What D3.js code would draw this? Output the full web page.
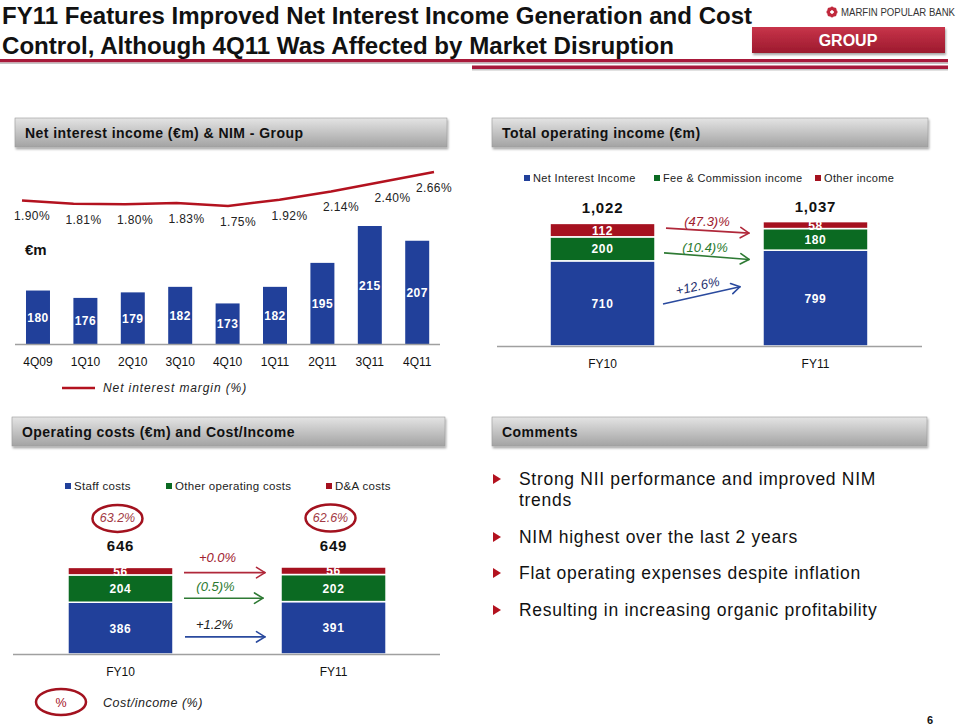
<!DOCTYPE html>
<html><head><meta charset="utf-8">
<script src="https://cdn.jsdelivr.net/npm/d3@7"></script>
<style>
html,body{margin:0;padding:0;background:#fff;}
svg{display:block;font-family:"Liberation Sans",Arial,sans-serif;}
</style></head>
<body>
<svg id="chart" width="960" height="727"></svg>
<script>
// ---------- DATA ----------
const titleLines = ["FY11 Features Improved Net Interest Income Generation and Cost",
                    "Control, Although 4Q11 Was Affected by Market Disruption"];
const quarters = ["4Q09","1Q10","2Q10","3Q10","4Q10","1Q11","2Q11","3Q11","4Q11"];
const niiValues = [180,176,179,182,173,182,195,215,207];
const nimValues = [1.90,1.81,1.80,1.83,1.75,1.92,2.14,2.40,2.66];

const years = ["FY10","FY11"];
const incomeSeries = ["Net Interest Income","Fee & Commission income","Other income"];
const netInterestIncome = [710,799];
const feeCommissionIncome = [200,180];
const otherIncome = [112,58];
const incomeTotals = ["1,022","1,037"];
const incomeChanges = ["+12.6%","(10.4)%","(47.3)%"];

const costSeries = ["Staff costs","Other operating costs","D&A costs"];
const staffCosts = [386,391];
const otherOpCosts = [204,202];
const daCosts = [56,56];
const costTotals = ["646","649"];
const costIncomeRatio = ["63.2%","62.6%"];
const costChanges = ["+1.2%","(0.5)%","+0.0%"];

const comments = [["Strong NII performance and improved NIM","trends"],
                  ["NIM highest over the last 2 years"],
                  ["Flat operating expenses despite inflation"],
                  ["Resulting in increasing organic profitability"]];

// ---------- STYLE ----------
const BLUE="#21409a", GREEN="#0b6a22", RED="#a5111f";
const svg = d3.select("#chart");
const defs = svg.append("defs");
const gg = defs.append("linearGradient").attr("id","grayGrad").attr("x1",0).attr("y1",0).attr("x2",0).attr("y2",1);
gg.append("stop").attr("offset","0%").attr("stop-color","#e4e4e4");
gg.append("stop").attr("offset","100%").attr("stop-color","#a3a3a3");
const rg = defs.append("linearGradient").attr("id","redGrad").attr("x1",0).attr("y1",0).attr("x2",0).attr("y2",1);
rg.append("stop").attr("offset","0%").attr("stop-color","#c8344a");
rg.append("stop").attr("offset","100%").attr("stop-color","#9c1a2e");
const sh = defs.append("filter").attr("id","shadow").attr("x","-5%").attr("y","-30%").attr("width","110%").attr("height","170%");
sh.append("feDropShadow").attr("dx",1).attr("dy",2).attr("stdDeviation",1.2).attr("flood-color","#000").attr("flood-opacity",0.35);

// ---------- HEADER ----------
svg.selectAll("text.title").data(titleLines).join("text")
  .attr("x",2).attr("y",(d,i)=>24+i*29.5)
  .attr("font-size",24).attr("font-weight","bold").attr("fill","#111")
  .attr("textLength",(d,i)=>i===0?750:672).attr("lengthAdjust","spacingAndGlyphs")
  .text(d=>d);

// logo
const logo = svg.append("g").attr("transform","translate(832,12)");
d3.range(8).forEach(k=>{
  const a = k*Math.PI/4;
  logo.append("circle").attr("cx",3.6*Math.cos(a)).attr("cy",3.6*Math.sin(a)).attr("r",2).attr("fill","#c0283c");
});
logo.append("circle").attr("r",1.6).attr("fill","#fff");
svg.append("text").attr("x",841).attr("y",16).attr("font-size",10).attr("fill","#333")
  .attr("textLength",114).attr("lengthAdjust","spacingAndGlyphs").text("MARFIN POPULAR BANK");
svg.append("rect").attr("x",752).attr("y",27).attr("width",193).attr("height",26)
  .attr("fill","url(#redGrad)").attr("filter","url(#shadow)");
svg.append("text").attr("x",848).attr("y",46).attr("text-anchor","middle").attr("font-size",16)
  .attr("font-weight","bold").attr("fill","#fff").text("GROUP");
// red rules
svg.append("rect").attr("x",0).attr("y",59).attr("width",948).attr("height",3.5).attr("fill","#a8193a");
svg.append("rect").attr("x",0).attr("y",62.5).attr("width",948).attr("height",1.5).attr("fill","#c4c4c4");
svg.append("rect").attr("x",472).attr("y",65.5).attr("width",476).attr("height",3.5).attr("fill","#a8193a");
svg.append("rect").attr("x",472).attr("y",69).attr("width",476).attr("height",1.5).attr("fill","#c4c4c4");

function sectionBox(x,y,w,label){
  svg.append("rect").attr("x",x).attr("y",y).attr("width",w).attr("height",29)
    .attr("fill","url(#grayGrad)").attr("stroke","#9a9a9a").attr("stroke-width",0.6)
    .attr("filter","url(#shadow)");
  svg.append("text").attr("x",x+10).attr("y",y+20).attr("font-size",14).attr("font-weight","bold")
    .attr("letter-spacing",0.45).attr("fill","#111").text(label);
}
sectionBox(15,118,432,"Net interest income (€m) & NIM - Group");
sectionBox(492,118,436,"Total operating income (€m)");
sectionBox(12,417,433,"Operating costs (€m) and Cost/Income");
sectionBox(492,417,435,"Comments");

// ---------- NII & NIM ----------
const xQ = d3.scaleBand().domain(quarters).range([15,440.2]).paddingInner(0.494).paddingOuter(0.232);
const yNII = d3.scaleLinear().domain([151,215]).range([344,226]);
const gNII = svg.append("g");
gNII.selectAll("rect").data(niiValues).join("rect")
  .attr("x",(d,i)=>xQ(quarters[i])).attr("width",xQ.bandwidth())
  .attr("y",d=>yNII(d)).attr("height",d=>yNII(151)-yNII(d)).attr("fill",BLUE);
gNII.selectAll("text.v").data(niiValues).join("text").attr("class","v")
  .attr("x",(d,i)=>xQ(quarters[i])+xQ.bandwidth()/2)
  .attr("y",d=>(yNII(d)+yNII(151))/2+4.5)
  .attr("text-anchor","middle").attr("font-size",12).attr("font-weight","bold").attr("letter-spacing",0.5)
  .attr("fill","#fff").text(d=>d);
gNII.append("line").attr("x1",15).attr("x2",440).attr("y1",yNII(151)+0.5).attr("y2",yNII(151)+0.5)
  .attr("stroke","#a0a0a0").attr("stroke-width",1.5);
const axQ = d3.axisBottom(xQ).tickSize(0).tickPadding(13);
const axG = gNII.append("g").attr("transform",`translate(0,${yNII(151)})`).call(axQ);
axG.select(".domain").remove();
axG.selectAll("text").attr("font-size",12).attr("font-family","Liberation Sans, Arial").attr("fill","#111");

const xNIM = d3.scalePoint().domain(quarters).range([22,434]);
const yNIM = d3.scaleLinear().domain([1.75,2.66]).range([206,172]);
gNII.append("path").datum(nimValues)
  .attr("d",d3.line().x((d,i)=>xNIM(quarters[i])).y(d=>yNIM(d)))
  .attr("fill","none").attr("stroke","#b3121f").attr("stroke-width",2.5);
gNII.selectAll("text.nim").data(nimValues).join("text").attr("class","nim")
  .attr("x",(d,i)=>xNIM(quarters[i])+(i===nimValues.length-1?0:10))
  .attr("y",d=>yNIM(d)+20)
  .attr("text-anchor","middle").attr("font-size",12).attr("letter-spacing",0.4).attr("fill","#222")
  .text(d=>d.toFixed(2)+"%");
gNII.append("text").attr("x",25).attr("y",255).attr("font-size",15).attr("font-weight","bold").attr("fill","#111").text("€m");
gNII.append("line").attr("x1",62).attr("x2",95).attr("y1",388).attr("y2",388).attr("stroke","#b3121f").attr("stroke-width",2.5);
gNII.append("text").attr("x",103).attr("y",392).attr("font-size",12).attr("font-style","italic")
  .attr("letter-spacing",0.9).attr("fill","#222").text("Net interest margin (%)");

// ---------- ARROW helper ----------
function arrow(g,x1,y1,x2,y2,color){
  g.append("line").attr("x1",x1).attr("y1",y1).attr("x2",x2).attr("y2",y2)
    .attr("stroke",color).attr("stroke-width",1.6);
  const a = Math.atan2(y2-y1,x2-x1);
  [0.55,-0.55].forEach(o=>{
    g.append("line").attr("x1",x2).attr("y1",y2)
      .attr("x2",x2-10*Math.cos(a+o)).attr("y2",y2-10*Math.sin(a+o))
      .attr("stroke",color).attr("stroke-width",1.6).attr("stroke-linecap","round");
  });
}

// ---------- TOTAL OPERATING INCOME ----------
const colors = [BLUE,GREEN,RED];
const incomeRows = years.map((y,i)=>({year:y, s0:netInterestIncome[i], s1:feeCommissionIncome[i], s2:otherIncome[i]}));
const incomeStack = d3.stack().keys(["s0","s1","s2"])(incomeRows);
const xI = d3.scaleBand().domain(years).range([497,921]).paddingInner(0.507).paddingOuter(0.249);
const yI = d3.scaleLinear().domain([0,1037]).range([346,221.6]);
const gI = svg.append("g");
incomeStack.forEach((layer,li)=>{
  gI.selectAll(null).data(layer).join("rect")
    .attr("x",d=>xI(d.data.year)).attr("width",xI.bandwidth())
    .attr("y",d=>yI(d[1])).attr("height",d=>yI(d[0])-yI(d[1]))
    .attr("fill",colors[li]).attr("stroke","#fff").attr("stroke-width",1.5);
  gI.selectAll(null).data(layer).join("text")
    .attr("x",d=>xI(d.data.year)+xI.bandwidth()/2).attr("y",d=>(yI(d[0])+yI(d[1]))/2+4.5)
    .attr("text-anchor","middle").attr("font-size",12).attr("font-weight","bold").attr("letter-spacing",0.6)
    .attr("fill","#fff").text(d=>d[1]-d[0]);
});
gI.selectAll("text.tot").data(years).join("text").attr("class","tot")
  .attr("x",d=>xI(d)+xI.bandwidth()/2).attr("y",(d,i)=>yI(incomeStack[2][i][1])-10)
  .attr("text-anchor","middle").attr("font-size",15).attr("font-weight","bold").attr("letter-spacing",0.8)
  .attr("fill","#111").text((d,i)=>incomeTotals[i]);
gI.append("line").attr("x1",497).attr("x2",922).attr("y1",yI(0)+0.5).attr("y2",yI(0)+0.5)
  .attr("stroke","#a0a0a0").attr("stroke-width",1.5);
const axI = gI.append("g").attr("transform",`translate(0,${yI(0)})`).call(d3.axisBottom(xI).tickSize(0).tickPadding(13));
axI.select(".domain").remove();
axI.selectAll("text").attr("font-size",12).attr("font-family","Liberation Sans, Arial").attr("fill","#111");
// legend
const legI = gI.append("g");
const legIx = [524,654,815];
incomeSeries.forEach((s,i)=>{
  legI.append("rect").attr("x",legIx[i]).attr("y",175).attr("width",6).attr("height",6).attr("fill",colors[i]);
  legI.append("text").attr("x",legIx[i]+9).attr("y",182).attr("font-size",11).attr("letter-spacing",0.35)
    .attr("fill","#222").text(s);
});
// arrows
{
  const xa0 = xI("FY10")+xI.bandwidth()+10, xa1 = xI("FY11")-14;
  const mid = (li)=> (yI(incomeStack[li][0][0])+yI(incomeStack[li][0][1]))/2;
  const arrCols = ["#2a4a9e","#2e7a34","#b0283a"];
  const txtCols = ["#1e2f6e","#2b7a2f","#a0202e"];
  let y0 = mid(2)-2; arrow(gI,xa0+1,y0,xa1,y0+5,arrCols[2]);
  gI.append("text").attr("x",(xa0+xa1)/2).attr("y",y0-2).attr("text-anchor","middle")
    .attr("font-size",13).attr("font-style","italic").attr("fill",txtCols[2]).text(incomeChanges[2]);
  y0 = mid(1)+4; arrow(gI,xa0-1,y0,xa1,y0+6.6,arrCols[1]);
  gI.append("text").attr("x",(xa0+xa1)/2-2).attr("y",y0-0.5).attr("text-anchor","middle")
    .attr("font-size",13).attr("font-style","italic").attr("fill",txtCols[1]).text(incomeChanges[1]);
  y0 = mid(0)+0.6; const y1 = y0-17.3, xe = xa1-9;
  arrow(gI,xa0-2,y0,xe,y1,arrCols[0]);
  const ang = Math.atan2(y1-y0,xe-(xa0-2))*180/Math.PI;
  gI.append("text").attr("transform",`translate(${(xa0+xe)/2-4},${(y0+y1)/2-5}) rotate(${ang})`)
    .attr("text-anchor","middle").attr("font-size",13).attr("font-style","italic").attr("fill",txtCols[0])
    .text(incomeChanges[0]);
}

// ---------- OPERATING COSTS ----------
const costRows = years.map((y,i)=>({year:y, s0:staffCosts[i], s1:otherOpCosts[i], s2:daCosts[i]}));
const costStack = d3.stack().keys(["s0","s1","s2"])(costRows);
const xC = d3.scaleBand().domain(years).range([13,441]).paddingInner(0.507).paddingOuter(0.258);
const yC = d3.scaleLinear().domain([0,649]).range([654,567]);
const gC = svg.append("g");
costStack.forEach((layer,li)=>{
  gC.selectAll(null).data(layer).join("rect")
    .attr("x",d=>xC(d.data.year)).attr("width",xC.bandwidth())
    .attr("y",d=>yC(d[1])).attr("height",d=>yC(d[0])-yC(d[1]))
    .attr("fill",colors[li]).attr("stroke","#fff").attr("stroke-width",1.5);
  gC.selectAll(null).data(layer).join("text")
    .attr("x",d=>xC(d.data.year)+xC.bandwidth()/2).attr("y",d=>(yC(d[0])+yC(d[1]))/2+4.5)
    .attr("text-anchor","middle").attr("font-size",12).attr("font-weight","bold").attr("letter-spacing",0.6)
    .attr("fill","#fff").text(d=>d[1]-d[0]);
});
gC.selectAll("text.tot").data(years).join("text").attr("class","tot")
  .attr("x",d=>xC(d)+xC.bandwidth()/2).attr("y",(d,i)=>yC(costStack[2][i][1])-16)
  .attr("text-anchor","middle").attr("font-size",15).attr("font-weight","bold").attr("letter-spacing",0.8)
  .attr("fill","#111").text((d,i)=>costTotals[i]);
gC.selectAll("ellipse").data(years).join("ellipse")
  .attr("cx",d=>xC(d)+xC.bandwidth()/2-3).attr("cy",(d,i)=>yC(costStack[2][i][1])-49)
  .attr("rx",25).attr("ry",13.5).attr("fill","none").attr("stroke","#a3121f").attr("stroke-width",2.5);
gC.selectAll("text.ci").data(years).join("text").attr("class","ci")
  .attr("x",d=>xC(d)+xC.bandwidth()/2-3).attr("y",(d,i)=>yC(costStack[2][i][1])-45)
  .attr("text-anchor","middle").attr("font-size",12.5).attr("font-style","italic").attr("fill","#a33a44")
  .text((d,i)=>costIncomeRatio[i]);
gC.append("line").attr("x1",13).attr("x2",440).attr("y1",yC(0)+0.5).attr("y2",yC(0)+0.5)
  .attr("stroke","#a0a0a0").attr("stroke-width",1.5);
const axC = gC.append("g").attr("transform",`translate(0,${yC(0)})`).call(d3.axisBottom(xC).tickSize(0).tickPadding(13));
axC.select(".domain").remove();
axC.selectAll("text").attr("font-size",12).attr("font-family","Liberation Sans, Arial").attr("fill","#111");
// legend
const legCx = [65,166,326];
costSeries.forEach((s,i)=>{
  gC.append("rect").attr("x",legCx[i]).attr("y",483).attr("width",6).attr("height",6).attr("fill",colors[i]);
  gC.append("text").attr("x",legCx[i]+9).attr("y",490).attr("font-size",11.5).attr("letter-spacing",0.3)
    .attr("fill","#222").text(s);
});
// arrows
{
  const xa0 = xC("FY10")+xC.bandwidth()+11, xa1 = xC("FY11")-16;
  const mid = (li)=> (yC(costStack[li][0][0])+yC(costStack[li][0][1]))/2;
  let y = mid(2)+1.5; arrow(gC,xa0,y,xa1,y,"#b0283a");
  gC.append("text").attr("x",(xa0+xa1)/2-7).attr("y",y-11).attr("text-anchor","middle")
    .attr("font-size",13).attr("font-style","italic").attr("fill","#a0202e").text(costChanges[2]);
  y = mid(1)+9.6; arrow(gC,xa0,y,xa1-2,y,"#2e7a34");
  gC.append("text").attr("x",(xa0+xa1)/2-9).attr("y",y-7).attr("text-anchor","middle")
    .attr("font-size",13).attr("font-style","italic").attr("fill","#2b7a2f").text(costChanges[1]);
  y = mid(0)+8.7; arrow(gC,xa0+1,y,xa1,y,"#2a4a9e");
  gC.append("text").attr("x",(xa0+xa1)/2-10).attr("y",y-7.5).attr("text-anchor","middle")
    .attr("font-size",13).attr("font-style","italic").attr("fill","#222").text(costChanges[0]);
}
// cost/income legend
gC.append("ellipse").attr("cx",61).attr("cy",702).attr("rx",25).attr("ry",13).attr("fill","none")
  .attr("stroke","#a3121f").attr("stroke-width",2.5);
gC.append("text").attr("x",61).attr("y",706.5).attr("text-anchor","middle").attr("font-size",12.5)
  .attr("fill","#a3121f").text("%");
gC.append("text").attr("x",103).attr("y",706.5).attr("font-size",12.5).attr("font-style","italic")
  .attr("letter-spacing",0.5).attr("fill","#222").text("Cost/income (%)");

// ---------- COMMENTS ----------
const gT = svg.append("g");
comments.forEach((lines,ci)=>{
  const yStart = [485,543,579,616][ci];
  gT.append("path").attr("d",`M493,${yStart-11} L501,${yStart-6} L493,${yStart-1} Z`).attr("fill","#b3121f");
  lines.forEach((ln,li)=>{
    gT.append("text").attr("x",519).attr("y",yStart+li*21).attr("font-size",17.5)
      .attr("letter-spacing",0.7).attr("fill","#111").text(ln);
  });
});

// page number
svg.append("text").attr("x",930).attr("y",724).attr("text-anchor","middle").attr("font-size",11)
  .attr("font-weight","bold").attr("fill","#111").text("6");
</script>
</body></html>
